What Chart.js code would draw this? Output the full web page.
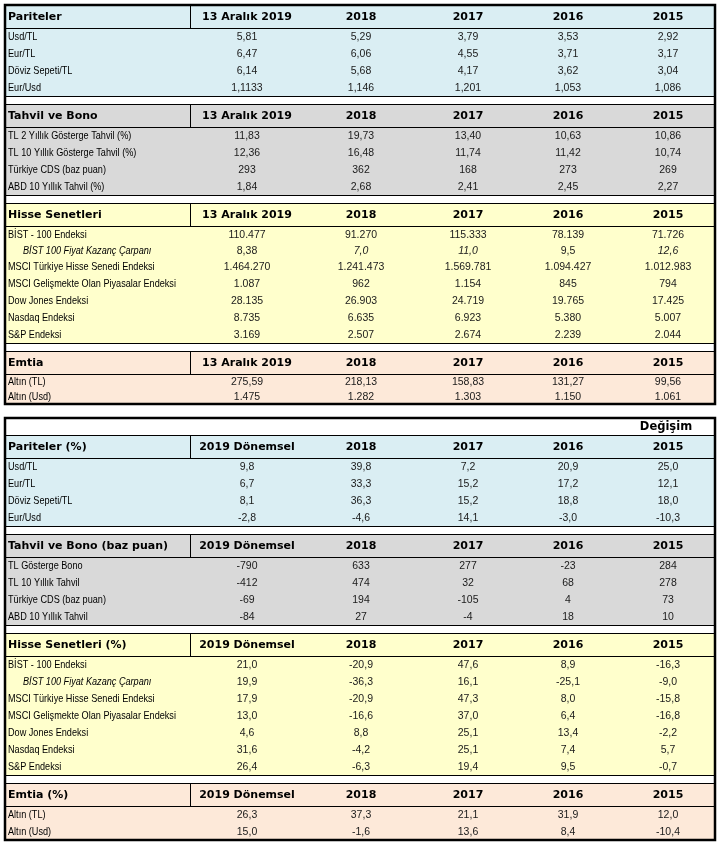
<!DOCTYPE html>
<html>
<head>
<meta charset="utf-8">
<script src="https://cdn.jsdelivr.net/npm/chart.js@4.4.1/dist/chart.umd.min.js"></script>
<style>
  html, body { margin: 0; padding: 0; background: #fff; }
  #wrap { width: 722px; height: 846px; position: relative; }
</style>
</head>
<body>
<div id="wrap"><canvas id="piyasa"></canvas></div>
<script>
// column headers and section titles
const levelColumns = ['13 Aralık 2019', '2018', '2017', '2016', '2015'];
const changeColumns = ['2019 Dönemsel', '2018', '2017', '2016', '2015'];
const levelTitles = ['Pariteler', 'Tahvil ve Bono', 'Hisse Senetleri', 'Emtia'];
const changeTitles = ['Pariteler (%)', 'Tahvil ve Bono (baz puan)', 'Hisse Senetleri (%)', 'Emtia (%)'];
const changeNote = 'Değişim';

// row labels
const pariteLabels = ['Usd/TL', 'Eur/TL', 'Döviz Sepeti/TL', 'Eur/Usd'];
const tahvilLabels = ['TL 2 Yıllık Gösterge Tahvil (%)', 'TL 10 Yıllık Gösterge Tahvil (%)', 'Türkiye CDS (baz puan)', 'ABD 10 Yıllık Tahvil (%)'];
const tahvilChangeLabels = ['TL Gösterge Bono', 'TL 10 Yıllık Tahvil', 'Türkiye CDS (baz puan)', 'ABD 10 Yıllık Tahvil'];
const hisseLabels = ['BİST - 100 Endeksi', 'BİST 100 Fiyat Kazanç Çarpanı', 'MSCI Türkiye Hisse Senedi Endeksi', 'MSCI Gelişmekte Olan Piyasalar Endeksi', 'Dow Jones Endeksi', 'Nasdaq Endeksi', 'S&P Endeksi'];
const emtiaLabels = ['Altın (TL)', 'Altın (Usd)'];
const italicLabel = 'BİST 100 Fiyat Kazanç Çarpanı';

// levels (upper table)
const pariteLevels = [
    ['5,81', '5,29', '3,79', '3,53', '2,92'],
    ['6,47', '6,06', '4,55', '3,71', '3,17'],
    ['6,14', '5,68', '4,17', '3,62', '3,04'],
    ['1,1133', '1,146', '1,201', '1,053', '1,086']
];
const tahvilLevels = [
    ['11,83', '19,73', '13,40', '10,63', '10,86'],
    ['12,36', '16,48', '11,74', '11,42', '10,74'],
    ['293', '362', '168', '273', '269'],
    ['1,84', '2,68', '2,41', '2,45', '2,27']
];
const hisseLevels = [
    ['110.477', '91.270', '115.333', '78.139', '71.726'],
    ['8,38', '7,0', '11,0', '9,5', '12,6'],
    ['1.464.270', '1.241.473', '1.569.781', '1.094.427', '1.012.983'],
    ['1.087', '962', '1.154', '845', '794'],
    ['28.135', '26.903', '24.719', '19.765', '17.425'],
    ['8.735', '6.635', '6.923', '5.380', '5.007'],
    ['3.169', '2.507', '2.674', '2.239', '2.044']
];
const emtiaLevels = [
    ['275,59', '218,13', '158,83', '131,27', '99,56'],
    ['1.475', '1.282', '1.303', '1.150', '1.061']
];
const fkItalicCols = [1, 2, 4];  // italic F/K values in the upper table

// changes (lower table)
const pariteChanges = [
    ['9,8', '39,8', '7,2', '20,9', '25,0'],
    ['6,7', '33,3', '15,2', '17,2', '12,1'],
    ['8,1', '36,3', '15,2', '18,8', '18,0'],
    ['-2,8', '-4,6', '14,1', '-3,0', '-10,3']
];
const tahvilChanges = [
    ['-790', '633', '277', '-23', '284'],
    ['-412', '474', '32', '68', '278'],
    ['-69', '194', '-105', '4', '73'],
    ['-84', '27', '-4', '18', '10']
];
const hisseChanges = [
    ['21,0', '-20,9', '47,6', '8,9', '-16,3'],
    ['19,9', '-36,3', '16,1', '-25,1', '-9,0'],
    ['17,9', '-20,9', '47,3', '8,0', '-15,8'],
    ['13,0', '-16,6', '37,0', '6,4', '-16,8'],
    ['4,6', '8,8', '25,1', '13,4', '-2,2'],
    ['31,6', '-4,2', '25,1', '7,4', '5,7'],
    ['26,4', '-6,3', '19,4', '9,5', '-0,7']
];
const emtiaChanges = [
    ['26,3', '37,3', '21,1', '31,9', '12,0'],
    ['15,0', '-1,6', '13,6', '8,4', '-10,4']
];

// layout (scale units = pixels of the 722x846 sheet)
const colX = [247, 361, 468, 568, 668];
const labelX = 8, indentX = 23, dividerX = 190, leftX = 5, rightX = 715, noteX = 666;
const headerH = 23, gapH = 8, noteH = 17;
const fills = ['#daeef3', '#d9d9d9', '#ffffcc', '#fde9d9'];
const levelRowH = [[17, 17, 17, 17], [17, 17, 17, 17], [17, 15, 17, 17, 17, 17, 17], [15, 15]];
const changeRowH = [[17, 17, 17, 17], [17, 17, 17, 17], [17, 17, 17, 17, 17, 17, 17], [17, 17]];
const labelSqueeze = 0.83;  // row labels are set in a narrow face

const fonts = {
    title: 'bold 11px "DejaVu Sans"',
    column: 'bold 11px "DejaVu Sans"',
    note: 'bold 11.5px "DejaVu Sans"',
    label: '11px "Liberation Sans"',
    italicLabel: 'italic 11px "Liberation Sans"',
    value: '10.5px "Liberation Sans"',
    italicValue: 'italic 10.5px "Liberation Sans"'
};

var bands = [];
var hLines = [];
var dividers = [];
var frames = [];
var cells = [];

function buildTable(top, columns, titles, sections, rowHeights, note, italicCols) {
    var y = top;
    if (note) {
        cells.push({ x: noteX, y: y + noteH / 2 + 1, text: note, style: 'note' });
        y += noteH;
    }
    sections.forEach(function (sec, s) {
        if (s > 0) y += gapH;
        var total = headerH + rowHeights[s].reduce(function (a, b) { return a + b; }, 0);
        bands.push({ y0: y, y1: y + total, fill: fills[s] });
        hLines.push(y);
        dividers.push({ y0: y, y1: y + headerH });
        //section header row
        cells.push({ x: labelX, y: y + headerH / 2 + 1, text: titles[s], style: 'title' });
        columns.forEach(function (c, i) {
            cells.push({ x: colX[i], y: y + headerH / 2 + 1, text: c, style: 'column' });
        });
        y += headerH;
        hLines.push(y);
        sec.labels.forEach(function (lab, r) {
            var cy = y + rowHeights[s][r] / 2 + 0.5;
            var isItalic = lab === italicLabel;
            cells.push({ x: isItalic ? indentX : labelX, y: cy, text: lab, style: isItalic ? 'italicLabel' : 'label' });
            sec.values[r].forEach(function (v, i) {
                var it = isItalic && italicCols && italicCols.indexOf(i) !== -1;
                cells.push({ x: colX[i], y: cy, text: v, style: it ? 'italicValue' : 'value' });
            });
            y += rowHeights[s][r];
        });
        hLines.push(y);
    });
    frames.push({ y0: top, y1: y });
}

buildTable(5, levelColumns, levelTitles, [
    { labels: pariteLabels, values: pariteLevels },
    { labels: tahvilLabels, values: tahvilLevels },
    { labels: hisseLabels, values: hisseLevels },
    { labels: emtiaLabels, values: emtiaLevels }
], levelRowH, null, fkItalicCols);

buildTable(418, changeColumns, changeTitles, [
    { labels: pariteLabels, values: pariteChanges },
    { labels: tahvilChangeLabels, values: tahvilChanges },
    { labels: hisseLabels, values: hisseChanges },
    { labels: emtiaLabels, values: emtiaChanges }
], changeRowH, changeNote, null);

const tablePlugin = {
    id: 'tableCells',
    beforeDatasetsDraw: function (chart) {
        var ctx = chart.ctx, sx = chart.scales.x, sy = chart.scales.y;
        var x0 = sx.getPixelForValue(leftX), x1 = sx.getPixelForValue(rightX);
        ctx.save();
        bands.forEach(function (b) {
            var y0 = sy.getPixelForValue(b.y0), y1 = sy.getPixelForValue(b.y1);
            ctx.fillStyle = b.fill;
            ctx.fillRect(x0, y0, x1 - x0, y1 - y0);
        });
        ctx.strokeStyle = '#000';
        ctx.lineWidth = 1;
        ctx.beginPath();
        hLines.forEach(function (v) {
            var y = Math.round(sy.getPixelForValue(v)) + 0.5;
            ctx.moveTo(x0, y);
            ctx.lineTo(x1, y);
        });
        dividers.forEach(function (d) {
            var x = Math.round(sx.getPixelForValue(dividerX)) + 0.5;
            ctx.moveTo(x, sy.getPixelForValue(d.y0));
            ctx.lineTo(x, sy.getPixelForValue(d.y1));
        });
        ctx.stroke();
        //outer frames are heavier
        ctx.lineWidth = 2.5;
        frames.forEach(function (f) {
            var y0 = sy.getPixelForValue(f.y0), y1 = sy.getPixelForValue(f.y1);
            ctx.strokeRect(x0, y0, x1 - x0, y1 - y0);
        });
        ctx.restore();
    },
    afterDatasetsDraw: function (chart) {
        var ctx = chart.ctx;
        var meta = chart.getDatasetMeta(0);
        var data = chart.data.datasets[0].data;
        ctx.save();
        ctx.textBaseline = 'middle';
        meta.data.forEach(function (pt, i) {
            var cell = data[i];
            ctx.font = fonts[cell.style];
            var isLabel = cell.style === 'label' || cell.style === 'italicLabel';
            var left = isLabel || cell.style === 'title';
            ctx.textAlign = left ? 'left' : 'center';
            ctx.fillStyle = left || cell.style === 'column' || cell.style === 'note' ? '#000' : '#1a1a1a';
            if (isLabel) {
                ctx.save();
                ctx.translate(pt.x, pt.y);
                ctx.scale(labelSqueeze, 1);
                ctx.fillText(cell.text, 0, 0);
                ctx.restore();
            } else {
                ctx.fillText(cell.text, pt.x, pt.y);
            }
        });
        ctx.restore();
    }
};

new Chart(document.getElementById('piyasa'), {
    type: 'scatter',
    data: {
        datasets: [{
            data: cells,
            pointRadius: 0,
            pointHoverRadius: 0
        }]
    },
    options: {
        responsive: true,
        maintainAspectRatio: false,
        animation: false,
        events: [],
        layout: { padding: 0 },
        plugins: { legend: { display: false }, tooltip: { enabled: false } },
        scales: {
            x: { type: 'linear', min: 0, max: 722, display: false },
            y: { type: 'linear', min: 0, max: 846, reverse: true, display: false }
        }
    },
    plugins: [tablePlugin]
});
</script>
</body>
</html>
